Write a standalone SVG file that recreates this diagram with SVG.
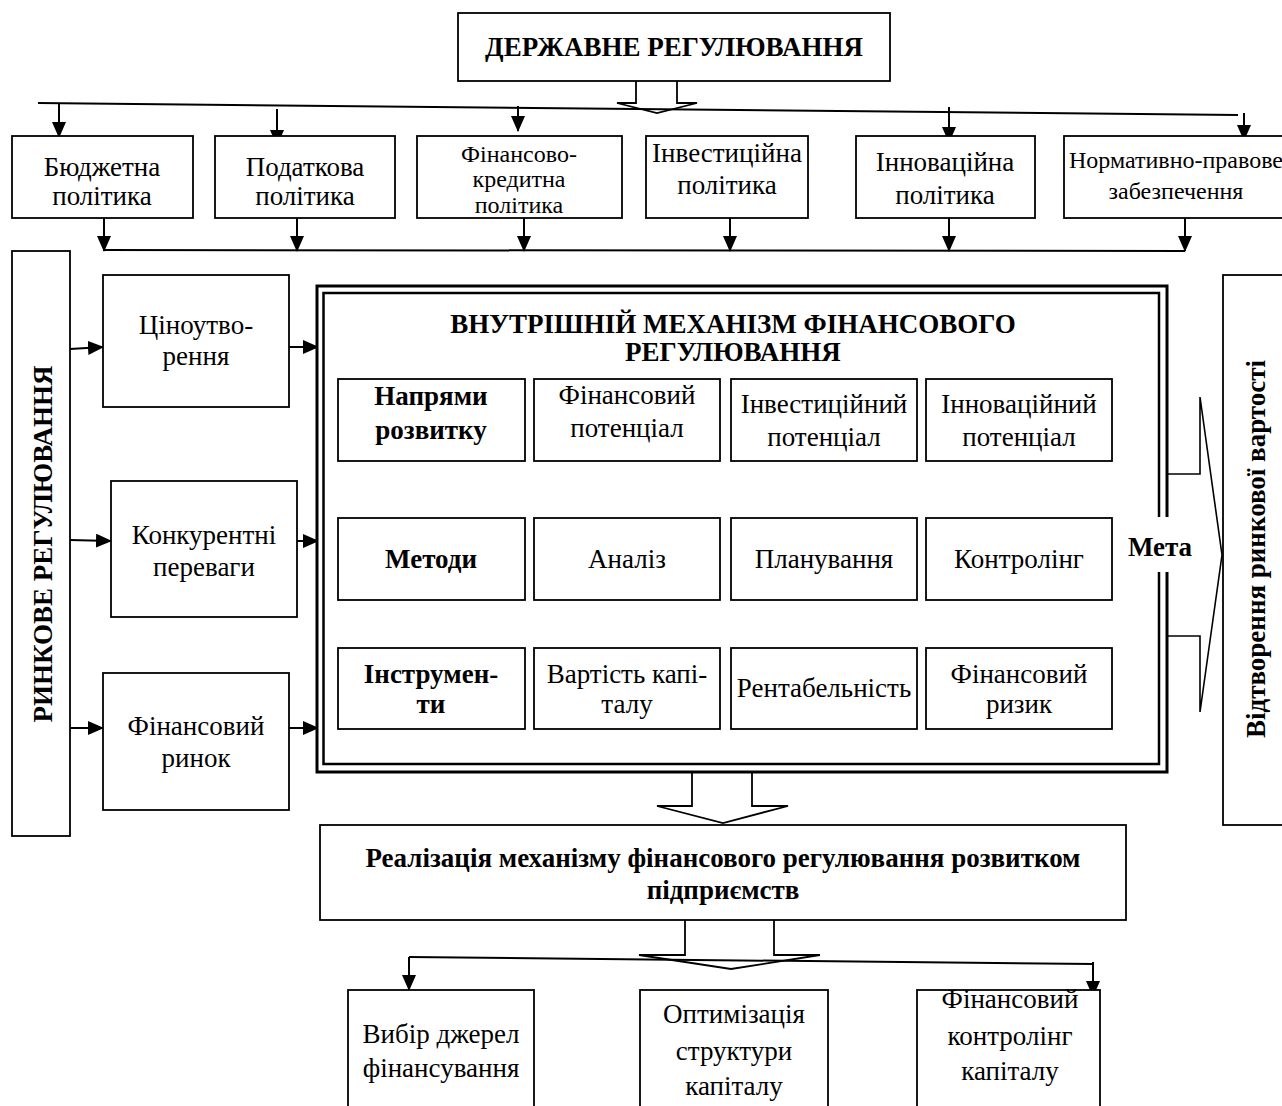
<svg xmlns="http://www.w3.org/2000/svg" width="1282" height="1106" viewBox="0 0 1282 1106">
<style>
.box{fill:#fff;stroke:#000;stroke-width:1.8}
.t{font-family:"Liberation Serif","Times New Roman",serif;font-size:27px;text-anchor:middle;fill:#000}
.b{font-weight:bold}
.s{font-size:24px}
.ln{stroke:#000;stroke-width:2;fill:none}
.ar{stroke:#000;stroke-width:2;fill:none;marker-end:url(#ah)}
.hol{stroke:#000;stroke-width:1.8;fill:#fff}
</style>
<defs>
<marker id="ah" markerUnits="userSpaceOnUse" markerWidth="16" markerHeight="14" refX="15" refY="7" orient="auto">
<path d="M0,0 L16,7 L0,14 z" fill="#000"/>
</marker>
</defs>
<rect width="1282" height="1106" fill="#fff"/>

<g id="connectors">
<polyline class="hol" points="636,81 636,103 617,103 657,113 697,103 677,103 677,81"/>
<line class="ln" x1="38" y1="103" x2="1238" y2="115"/>
<line class="ar" x1="59" y1="103" x2="59" y2="137"/>
<line class="ar" x1="277" y1="109" x2="277" y2="145"/>
<line class="ar" x1="518" y1="106" x2="518" y2="131"/>
<line class="ar" x1="949" y1="107" x2="949" y2="142"/>
<line class="ar" x1="1244" y1="113" x2="1244" y2="140"/>
<line class="ln" x1="104" y1="250" x2="1185" y2="251"/>
<line class="ar" x1="104" y1="218" x2="104" y2="251"/>
<line class="ar" x1="297" y1="218" x2="297" y2="251"/>
<line class="ar" x1="524" y1="218" x2="524" y2="251"/>
<line class="ar" x1="730" y1="218" x2="730" y2="251"/>
<line class="ar" x1="949" y1="218" x2="949" y2="251"/>
<line class="ar" x1="1185" y1="218" x2="1185" y2="251"/>
<line class="ar" x1="70" y1="349" x2="103" y2="347"/>
<line class="ar" x1="70" y1="540" x2="111" y2="541"/>
<line class="ar" x1="70" y1="728" x2="103" y2="728"/>
<line class="ar" x1="289" y1="347" x2="318" y2="347"/>
<line class="ar" x1="297" y1="541" x2="318" y2="541"/>
<line class="ar" x1="289" y1="728" x2="318" y2="728"/>
<polyline class="hol" points="692,772 692,806 657,806 723,823 788,806 752,806 752,772"/>
<polyline class="hol" points="685,920 685,955 639,955 731,969 820,955 774,955 774,920"/>
<line class="ln" x1="409" y1="957" x2="1093" y2="964"/>
<line class="ar" x1="409" y1="957" x2="409" y2="990"/>
<line class="ar" x1="1093" y1="962" x2="1093" y2="996"/>
<polyline class="ln" style="stroke-width:1.6" points="1167,474 1200,474 1200,397 1222,555 1200,712 1200,636 1167,636"/>
</g>

<g id="state">
<rect class="box" x="458" y="13" width="432" height="68"/>
<text class="t b" x="674" y="56">ДЕРЖАВНЕ РЕГУЛЮВАННЯ</text>
</g>

<g id="budget">
<rect class="box" x="12" y="136" width="181" height="82"/>
<text class="t" x="102" y="176">Бюджетна</text>
<text class="t" x="102" y="205">політика</text>
</g>
<g id="tax">
<rect class="box" x="215" y="136" width="180" height="82"/>
<text class="t" x="305" y="176">Податкова</text>
<text class="t" x="305" y="205">політика</text>
</g>
<g id="fincredit">
<rect class="box" x="417" y="136" width="205" height="82"/>
<text class="t s" x="519" y="162">Фінансово-</text>
<text class="t s" x="519" y="187">кредитна</text>
<text class="t s" x="519" y="213">політика</text>
</g>
<g id="invest">
<rect class="box" x="646" y="136" width="162" height="82"/>
<text class="t" x="727" y="162">Інвестиційна</text>
<text class="t" x="727" y="194">політика</text>
</g>
<g id="innov">
<rect class="box" x="856" y="136" width="179" height="82"/>
<text class="t" x="945" y="171">Інноваційна</text>
<text class="t" x="945" y="204">політика</text>
</g>
<g id="legal">
<rect class="box" x="1064" y="136" width="230" height="82"/>
<text class="t s" x="1176" y="168">Нормативно-правове</text>
<text class="t s" x="1176" y="199">забезпечення</text>
</g>

<g id="market">
<rect class="box" x="12" y="251" width="58" height="585"/>
<text class="t b" transform="translate(52,544) rotate(-90)">РИНКОВЕ РЕГУЛЮВАННЯ</text>
</g>
<g id="pricing">
<rect class="box" x="103" y="275" width="186" height="132"/>
<text class="t" x="196" y="334">Ціноутво-</text>
<text class="t" x="196" y="365">рення</text>
</g>
<g id="compet">
<rect class="box" x="111" y="481" width="186" height="136"/>
<text class="t" x="204" y="544">Конкурентні</text>
<text class="t" x="204" y="576">переваги</text>
</g>
<g id="finmarket">
<rect class="box" x="103" y="673" width="186" height="137"/>
<text class="t" x="196" y="735">Фінансовий</text>
<text class="t" x="196" y="767">ринок</text>
</g>

<g id="mechanism">
<rect x="317" y="286" width="850" height="486" fill="#fff" stroke="#000" stroke-width="3"/>
<rect x="323.5" y="293" width="835.5" height="471" fill="none" stroke="#000" stroke-width="2.5"/>
<rect x="1150" y="517" width="26" height="55" fill="#fff"/>
<text class="t b" x="733" y="333">ВНУТРІШНІЙ МЕХАНІЗМ ФІНАНСОВОГО</text>
<text class="t b" x="733" y="361">РЕГУЛЮВАННЯ</text>
<text class="t b" x="1160" y="556">Мета</text>
</g>

<g id="g11"><rect class="box" x="338" y="379" width="187" height="82"/>
<text class="t b" x="431" y="405">Напрями</text><text class="t b" x="431" y="439">розвитку</text></g>
<g id="g12"><rect class="box" x="534" y="379" width="186" height="82"/>
<text class="t" x="627" y="404">Фінансовий</text><text class="t" x="627" y="437">потенціал</text></g>
<g id="g13"><rect class="box" x="731" y="379" width="186" height="82"/>
<text class="t" x="824" y="413">Інвестиційний</text><text class="t" x="824" y="446">потенціал</text></g>
<g id="g14"><rect class="box" x="926" y="379" width="186" height="82"/>
<text class="t" x="1019" y="413">Інноваційний</text><text class="t" x="1019" y="446">потенціал</text></g>

<g id="g21"><rect class="box" x="338" y="518" width="187" height="82"/>
<text class="t b" x="431" y="568">Методи</text></g>
<g id="g22"><rect class="box" x="534" y="518" width="186" height="82"/>
<text class="t" x="627" y="568">Аналіз</text></g>
<g id="g23"><rect class="box" x="731" y="518" width="186" height="82"/>
<text class="t" x="824" y="568">Планування</text></g>
<g id="g24"><rect class="box" x="926" y="518" width="186" height="82"/>
<text class="t" x="1019" y="568">Контролінг</text></g>

<g id="g31"><rect class="box" x="338" y="648" width="187" height="81"/>
<text class="t b" x="431" y="683">Інструмен-</text><text class="t b" x="431" y="713">ти</text></g>
<g id="g32"><rect class="box" x="534" y="648" width="186" height="81"/>
<text class="t" x="627" y="683">Вартість капі-</text><text class="t" x="627" y="713">талу</text></g>
<g id="g33"><rect class="box" x="731" y="648" width="186" height="81"/>
<text class="t" x="824" y="697">Рентабельність</text></g>
<g id="g34"><rect class="box" x="926" y="648" width="186" height="81"/>
<text class="t" x="1019" y="683">Фінансовий</text><text class="t" x="1019" y="713">ризик</text></g>

<g id="goal">
<rect class="box" x="1223" y="275" width="70" height="550"/>
<text class="t b" transform="translate(1265,549) rotate(-90)">Відтворення ринкової вартості</text>
</g>

<g id="realization">
<rect class="box" x="320" y="825" width="806" height="95"/>
<text class="t b" x="723" y="867">Реалізація механізму фінансового регулювання розвитком</text>
<text class="t b" x="723" y="899">підприємств</text>
</g>

<g id="sources">
<rect class="box" x="348" y="990" width="186" height="130"/>
<text class="t" x="441" y="1043">Вибір джерел</text>
<text class="t" x="441" y="1077">фінансування</text>
</g>
<g id="structure">
<rect class="box" x="640" y="990" width="188" height="130"/>
<text class="t" x="734" y="1023">Оптимізація</text>
<text class="t" x="734" y="1060">структури</text>
<text class="t" x="734" y="1095">капіталу</text>
</g>
<g id="controlling">
<rect class="box" x="917" y="990" width="183" height="130"/>
<text class="t" x="1010" y="1008">Фінансовий</text>
<text class="t" x="1010" y="1045">контролінг</text>
<text class="t" x="1010" y="1080">капіталу</text>
</g>
</svg>
